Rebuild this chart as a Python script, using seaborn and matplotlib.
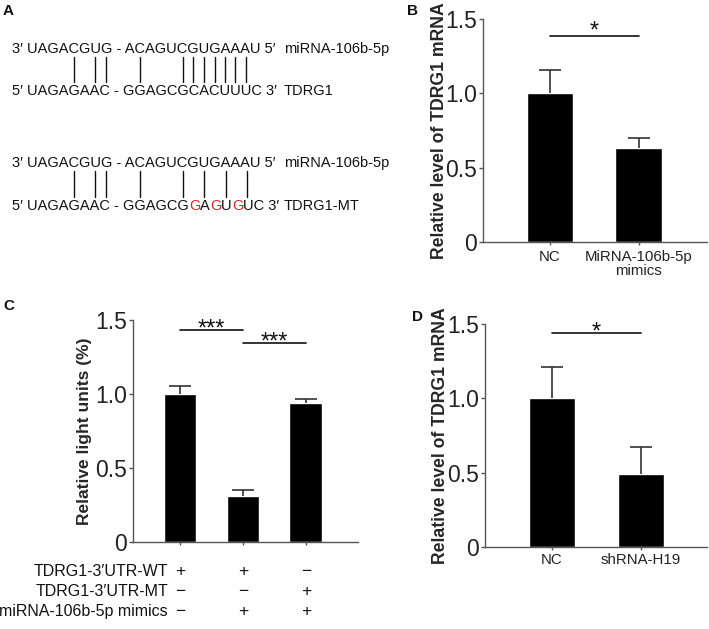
import numpy as np
import matplotlib
matplotlib.use("Agg")
import matplotlib.pyplot as plt
import matplotlib.transforms as mtransforms
from matplotlib.font_manager import FontProperties
import seaborn as sns

# =====================================================
# DATA
# =====================================================

# panel A - sequence alignment
mirna_seq = "3′ UAGACGUG - ACAGUCGUGAAAU 5′"
tdrg1_seq = "5′ UAGAGAAC - GGAGCGCACUUUC 3′"
tdrg1_mt_seq = "5′ UAGAGAAC - GGAGCGGAGUGUC 3′"
mirna_name = "miRNA-106b-5p"
target_names = ["TDRG1", "TDRG1-MT"]

# panel B
b_groups = ["NC", "MiRNA-106b-5p\nmimics"]
b_mean = [1.0, 0.63]
b_err = [0.16, 0.07]

# panel C
c_groups = ["WT", "WT+mimics", "MT+mimics"]
c_mean = [1.0, 0.31, 0.94]
c_err = [0.055, 0.04, 0.025]
c_rows = ["TDRG1-3′UTR-WT", "TDRG1-3′UTR-MT", "miRNA-106b-5p mimics"]
c_signs = [
    ["+", "+", "−"],
    ["−", "−", "+"],
    ["−", "+", "+"],
]

# panel D
d_groups = ["NC", "shRNA-H19"]
d_mean = [1.0, 0.49]
d_err = [0.21, 0.18]

# significance brackets: (first bar, second bar, height, label)
b_sig = [(0, 1, 1.385, "*")]
c_sig = [(0, 1, 1.43, "***"), (1, 2, 1.345, "***")]
d_sig = [(0, 1, 1.44, "*")]

# =====================================================
# STYLE
# =====================================================

sns.set_style("ticks")
plt.rcParams["font.family"] = ["Liberation Sans", "DejaVu Sans"]
plt.rcParams["text.color"] = "#111111"

W, H = 709, 629
fig = plt.figure(figsize=(W / 100, H / 100), dpi=100)


def px_axes(left, top, right, bottom):
    return fig.add_axes([left / W, 1 - bottom / H,
                         (right - left) / W, (bottom - top) / H])


# full-figure canvas in pixel units for panel A and the panel letters
canvas = fig.add_axes([0, 0, 1, 1])
canvas.set_xlim(0, W)
canvas.set_ylim(H, 0)
canvas.axis("off")
canvas.patch.set_alpha(0)

for letter, x, y in [("A", 3, 15), ("B", 407, 15), ("C", 3, 310), ("D", 412, 321)]:
    canvas.text(x, y, letter, fontsize=11, fontweight="bold", va="baseline")

# =====================================================
# PANEL A - ALIGNMENT
# =====================================================

seq_size = 10.5
seq_fp = FontProperties(family=["Liberation Sans", "DejaVu Sans"], size=seq_size)
renderer = fig.canvas.get_renderer()


def text_w(s):
    return renderer.get_text_width_height_descent(s, seq_fp, ismath=False)[0]


def char_center(s, i, x0):
    return x0 + text_w(s[:i + 1]) - text_w(s[i]) / 2


pairs = {("A", "U"), ("U", "A"), ("G", "C"), ("C", "G")}
x0 = 12
name_x = 284

blocks = [(53, 95, tdrg1_seq, target_names[0]),
          (167, 210, tdrg1_mt_seq, target_names[1])]

for top_base, bot_base, target, tname in blocks:
    canvas.text(x0, top_base, mirna_seq, fontproperties=seq_fp, va="baseline")
    canvas.text(name_x, top_base, mirna_name, fontproperties=seq_fp, va="baseline")
    canvas.text(name_x, bot_base, tname, fontproperties=seq_fp, va="baseline")

    # target line, mutated letters in red
    red = [i for i in range(len(target)) if target[i] != tdrg1_seq[i]]
    cuts = sorted(set([0] + red + [i + 1 for i in red] + [len(target)]))
    for a, b in zip(cuts[:-1], cuts[1:]):
        seg = target[a:b]
        if a == 0:
            xs = x0
        else:
            xs = x0 + text_w(target[:a + 1]) - text_w(target[a])
        canvas.text(xs, bot_base, seg, fontproperties=seq_fp, va="baseline",
                    color="#e8232a" if a in red else "#111111")

    # base pairing ticks
    for i in range(min(len(mirna_seq), len(target))):
        if (mirna_seq[i], target[i]) in pairs:
            xc = (char_center(mirna_seq, i, x0) + char_center(target, i, x0)) / 2
            canvas.plot([xc, xc], [top_base + 4, bot_base - 13],
                        color="#111111", lw=1.0)

# =====================================================
# BAR PANELS
# =====================================================


def bar_panel(ax, groups, means, errs, xmax, sig, star_dy):
    sns.barplot(x=groups, y=means, color="black", width=0.52,
                saturation=1, errorbar=None, ax=ax)
    eb = ax.errorbar(range(len(means)), means,
                     yerr=[np.zeros(len(errs)), errs],
                     fmt="none", ecolor="#333333", elinewidth=1.2,
                     capsize=8, capthick=1.2)
    eb[1][0].set_visible(False)   # no cap on the bar top
    ax.set_xlim(-0.75, xmax)
    ax.set_ylim(0, 1.5)
    ax.set_yticks([0, 0.5, 1.0, 1.5])
    ax.set_yticklabels(["0", "0.5", "1.0", "1.5"], fontsize=16.5, color="#222222")
    sns.despine(ax=ax)
    for s in ["left", "bottom"]:
        ax.spines[s].set_color("#555555")
        ax.spines[s].set_linewidth(1.0)
    ax.tick_params(axis="y", length=3, width=1, color="#555555", pad=1.5)
    ax.tick_params(axis="x", length=2, width=1, color="#555555",
                   labelsize=10.8, labelcolor="#222222")
    ax.set_xlabel("")
    for i0, i1, yv, lab in sig:
        ax.plot([i0, i1], [yv, yv], color="#111111", lw=1.2, clip_on=False)
        ax.annotate(lab, xy=((i0 + i1) / 2, yv), xytext=(0, star_dy),
                    textcoords="offset points", ha="center", va="baseline",
                    fontsize=17)


# ---------------- B ----------------
axB = px_axes(483, 19, 707, 242)
bar_panel(axB, b_groups, b_mean, b_err, 1.77, b_sig, -1)
axB.set_ylabel("Relative level of TDRG1 mRNA", fontsize=12.7, fontweight="bold")
axB.yaxis.set_label_coords(-0.158, 0.5)
axB.tick_params(axis="x", pad=4)
for t in axB.get_xticklabels():
    t.set_linespacing(0.95)

# ---------------- C ----------------
axC = px_axes(133, 320, 358, 542)
bar_panel(axC, c_groups, c_mean, c_err, 2.83, c_sig, -4)
axC.set_xticklabels([])
axC.set_ylabel("Relative light units (%)", fontsize=12.5, fontweight="bold")
axC.yaxis.set_label_coords(-0.182, 0.5)

row_y = [-0.135, -0.225, -0.311]
blend = mtransforms.blended_transform_factory(axC.transData, axC.transAxes)
for r, (name, signs) in enumerate(zip(c_rows, c_signs)):
    axC.text(0.156, row_y[r], name, transform=axC.transAxes, ha="right",
             va="center", fontsize=11.5)
    for i, s in enumerate(signs):
        axC.text(i, row_y[r], s, transform=blend, ha="center", va="center",
                 fontsize=12.5)

# ---------------- D ----------------
axD = px_axes(485, 324, 707, 547)
bar_panel(axD, d_groups, d_mean, d_err, 1.74, d_sig, -4)
axD.set_ylabel("Relative level of TDRG1 mRNA", fontsize=12.7, fontweight="bold")
axD.yaxis.set_label_coords(-0.16, 0.5)
axD.tick_params(axis="x", pad=2)

fig.savefig("out.png", dpi=100)
